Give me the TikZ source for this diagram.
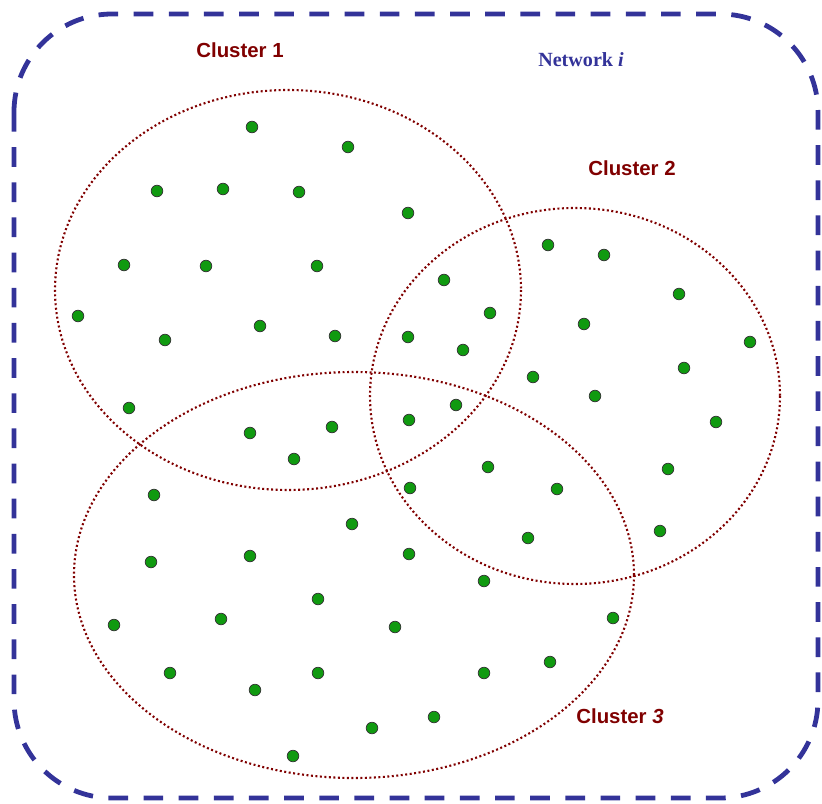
\documentclass[tikz,border=0pt]{standalone}
\usepackage{fontspec}
\setmainfont{Liberation Serif}
\newfontfamily\clusterfont{Liberation Sans}
\usetikzlibrary{positioning}
\definecolor{netblue}{HTML}{333399}
\definecolor{clusred}{HTML}{800000}
\definecolor{dotgreen}{HTML}{109A10}

\begin{document}
\begin{tikzpicture}[
        x=0.025cm, y=-0.025cm,
        netbox/.style={draw=netblue, line width=3.4pt, rounded corners=2.45cm,
                       dash pattern=on 14pt off 11pt},
        clus/.style={draw=clusred, line width=1.5pt, dash pattern=on 1.4pt off 1.8pt},
        dot/.style={circle, draw=black!80, line width=0.5pt, fill=dotgreen,
                    inner sep=0pt, minimum size=0.29cm},
        clabel/.style={text=clusred, font=\clusterfont\bfseries\fontsize{14.5}{16}\selectfont},
        nlabel/.style={text=netblue, font=\bfseries\fontsize{14.3}{16}\selectfont},
      ]
        \useasboundingbox (0,0) rectangle (822,803);
        % network border
        \draw[netbox] (14,14) rectangle (818,798);
        % clusters
        \draw[clus] (288,290) ellipse [x radius=233, y radius=200];
        \draw[clus] (575,396) ellipse [x radius=205, y radius=188];
        \draw[clus] (354,575) ellipse [x radius=280, y radius=203];
        % labels
        \node[clabel] (c1) at (240,50) {Cluster 1};
        \node[clabel] (c2) at (632,168) {Cluster 2};
        \node[clabel] (c3) at (620,716) {Cluster \textit{3}};
        \node[nlabel] (net) at (581,60) {Network \textit{i}};
        % nodes of the network
        \foreach \x/\y [count=\i] in {252/127, 348/147, 157/191, 223/189, 299/192,
            408/213, 124/265, 206/266, 317/266, 444/280, 78/316, 490/313, 165/340,
            260/326, 335/336, 408/337, 463/350, 548/245, 604/255, 679/294, 584/324,
            750/342, 684/368, 533/377, 595/396, 129/408, 250/433, 332/427, 409/420,
            456/405, 294/459, 716/422, 488/467, 668/469, 410/488, 557/489, 154/495,
            352/524, 528/538, 660/531, 151/562, 250/556, 409/554, 484/581, 318/599,
            114/625, 221/619, 395/627, 613/618, 170/673, 255/690, 318/673, 484/673,
            550/662, 372/728, 434/717, 293/756}
          \node[dot] (d\i) at (\x,\y) {};
      \end{tikzpicture}
\end{document}
